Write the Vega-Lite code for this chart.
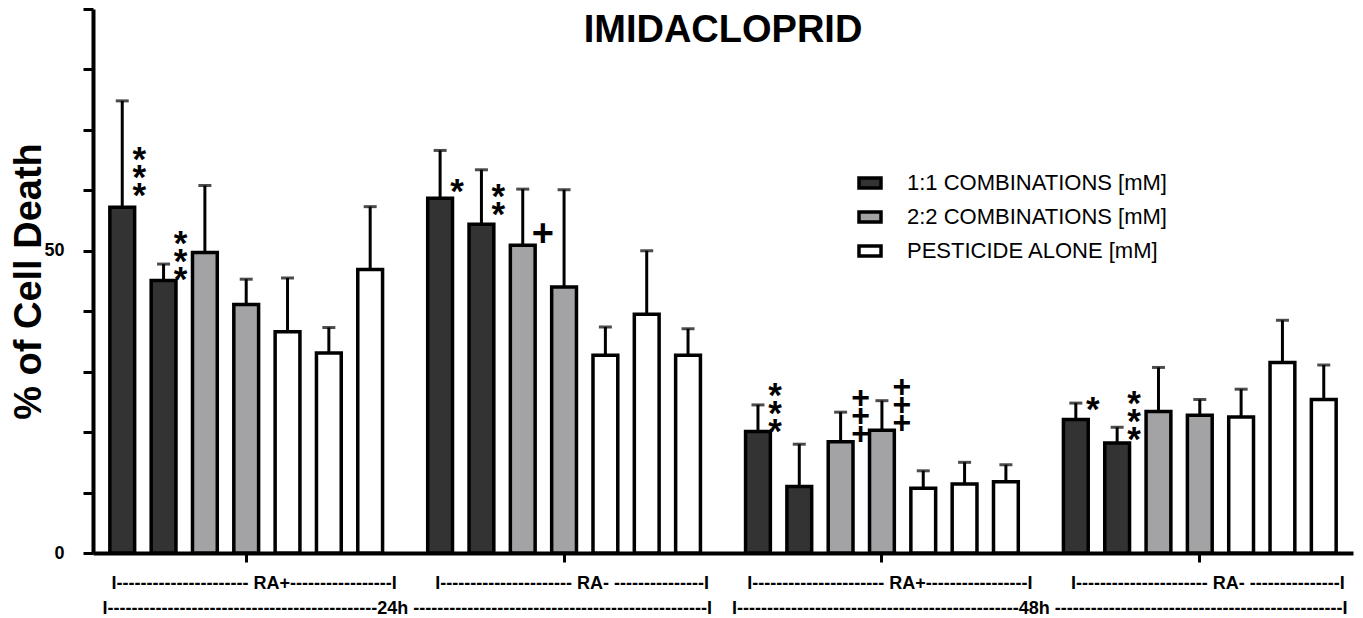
{
  "$schema": "https://vega.github.io/schema/vega-lite/v6.json",
  "width": 1260,
  "height": 544,
  "autosize": {"type": "none"},
  "padding": {"left": 93, "top": 9, "right": 10, "bottom": 65},
  "background": "white",
  "config": {
    "view": {"stroke": null},
    "font": "Liberation Sans"
  },
  "title": {
    "text": "IMIDACLOPRID",
    "font": "Liberation Sans",
    "fontSize": 38,
    "fontWeight": "bold",
    "color": "black",
    "anchor": "middle",
    "baseline": "alphabetic",
    "offset": -72
  },
  "datasets": {
    "bars": [
      {"group": "24h RA+", "bar": 1, "treatment": "1:1 COMBINATIONS [mM]", "value": 57.2, "upper": 74.8},
      {"group": "24h RA+", "bar": 2, "treatment": "1:1 COMBINATIONS [mM]", "value": 45.1, "upper": 47.8},
      {"group": "24h RA+", "bar": 3, "treatment": "2:2 COMBINATIONS [mM]", "value": 49.7, "upper": 60.8},
      {"group": "24h RA+", "bar": 4, "treatment": "2:2 COMBINATIONS [mM]", "value": 41.1, "upper": 45.3},
      {"group": "24h RA+", "bar": 5, "treatment": "PESTICIDE ALONE [mM]", "value": 36.6, "upper": 45.5},
      {"group": "24h RA+", "bar": 6, "treatment": "PESTICIDE ALONE [mM]", "value": 33.1, "upper": 37.3},
      {"group": "24h RA+", "bar": 7, "treatment": "PESTICIDE ALONE [mM]", "value": 46.9, "upper": 57.3},
      {"group": "24h RA-", "bar": 1, "treatment": "1:1 COMBINATIONS [mM]", "value": 58.7, "upper": 66.6},
      {"group": "24h RA-", "bar": 2, "treatment": "1:1 COMBINATIONS [mM]", "value": 54.4, "upper": 63.4},
      {"group": "24h RA-", "bar": 3, "treatment": "2:2 COMBINATIONS [mM]", "value": 50.9, "upper": 60.2},
      {"group": "24h RA-", "bar": 4, "treatment": "2:2 COMBINATIONS [mM]", "value": 44.0, "upper": 60.1},
      {"group": "24h RA-", "bar": 5, "treatment": "PESTICIDE ALONE [mM]", "value": 32.7, "upper": 37.4},
      {"group": "24h RA-", "bar": 6, "treatment": "PESTICIDE ALONE [mM]", "value": 39.5, "upper": 50.0},
      {"group": "24h RA-", "bar": 7, "treatment": "PESTICIDE ALONE [mM]", "value": 32.7, "upper": 37.1},
      {"group": "48h RA+", "bar": 1, "treatment": "1:1 COMBINATIONS [mM]", "value": 20.1, "upper": 24.5},
      {"group": "48h RA+", "bar": 2, "treatment": "1:1 COMBINATIONS [mM]", "value": 11.0, "upper": 18.0},
      {"group": "48h RA+", "bar": 3, "treatment": "2:2 COMBINATIONS [mM]", "value": 18.4, "upper": 23.3},
      {"group": "48h RA+", "bar": 4, "treatment": "2:2 COMBINATIONS [mM]", "value": 20.3, "upper": 25.2},
      {"group": "48h RA+", "bar": 5, "treatment": "PESTICIDE ALONE [mM]", "value": 10.7, "upper": 13.6},
      {"group": "48h RA+", "bar": 6, "treatment": "PESTICIDE ALONE [mM]", "value": 11.4, "upper": 15.0},
      {"group": "48h RA+", "bar": 7, "treatment": "PESTICIDE ALONE [mM]", "value": 11.8, "upper": 14.6},
      {"group": "48h RA-", "bar": 1, "treatment": "1:1 COMBINATIONS [mM]", "value": 22.1, "upper": 24.8},
      {"group": "48h RA-", "bar": 2, "treatment": "1:1 COMBINATIONS [mM]", "value": 18.2, "upper": 20.8},
      {"group": "48h RA-", "bar": 3, "treatment": "2:2 COMBINATIONS [mM]", "value": 23.4, "upper": 30.7},
      {"group": "48h RA-", "bar": 4, "treatment": "2:2 COMBINATIONS [mM]", "value": 22.8, "upper": 25.4},
      {"group": "48h RA-", "bar": 5, "treatment": "PESTICIDE ALONE [mM]", "value": 22.5, "upper": 27.1},
      {"group": "48h RA-", "bar": 6, "treatment": "PESTICIDE ALONE [mM]", "value": 31.5, "upper": 38.5},
      {"group": "48h RA-", "bar": 7, "treatment": "PESTICIDE ALONE [mM]", "value": 25.4, "upper": 31.1}
    ],
    "notes": [
      {"group": "24h RA+", "bar": 1, "label": "*\n*\n*", "y": 66.1},
      {"group": "24h RA+", "bar": 2, "label": "*\n*\n*", "y": 52.3},
      {"group": "24h RA-", "bar": 1, "label": "*", "y": 60.9},
      {"group": "24h RA-", "bar": 2, "label": "*\n*", "y": 60.1},
      {"group": "24h RA-", "bar": 3, "label": "+", "y": 53.0},
      {"group": "48h RA+", "bar": 1, "label": "*\n*\n*", "y": 27.2},
      {"group": "48h RA+", "bar": 3, "label": "+\n+\n+", "y": 26.1},
      {"group": "48h RA+", "bar": 4, "label": "+\n+\n+", "y": 28.0},
      {"group": "48h RA-", "bar": 1, "label": "*", "y": 24.8},
      {"group": "48h RA-", "bar": 2, "label": "*\n*\n*", "y": 25.8}
    ]
  },
  "encoding": {
    "x": {
      "field": "group",
      "type": "nominal",
      "sort": ["24h RA+", "24h RA-", "48h RA+", "48h RA-"],
      "scale": {"paddingInner": 0.09, "paddingOuter": 0.027},
      "axis": {
        "labelExpr": "indexof(datum.label, 'RA+') >= 0 ? 'I---------------------- RA+-----------------I' : 'I---------------------- RA- ---------------I'",
        "labelAngle": 0,
        "labelFont": "Liberation Sans",
        "labelFontWeight": "bold",
        "labelFontSize": 18,
        "labelColor": "black",
        "labelOffset": 8,
        "labelPadding": 12,
        "labelBaseline": "top",
        "labelLimit": 0,
        "tickSize": 9,
        "tickWidth": 3,
        "tickColor": "black",
        "domainColor": "black",
        "domainWidth": 4,
        "title": "I---------------------------------------------24h -------------------------------------------------I\u00a0\u00a0\u00a0\u00a0I-----------------------------------------------48h ------------------------------------------------I",
        "titleFont": "Liberation Sans",
        "titleFontWeight": "bold",
        "titleFontSize": 18,
        "titleColor": "black",
        "titleX": 631.5,
        "titleY": 46,
        "titleAlign": "center",
        "titleBaseline": "top",
        "titleLimit": 0
      }
    },
    "xOffset": {
      "field": "bar",
      "type": "ordinal",
      "scale": {"paddingInner": 0.4, "paddingOuter": 0.2}
    }
  },
  "layer": [
    {
      "data": {"name": "bars"},
      "mark": {"type": "rule", "color": "black", "strokeWidth": 3},
      "encoding": {
        "y": {
          "field": "value",
          "type": "quantitative",
          "scale": {"domain": [0, 90], "nice": false},
          "axis": {
            "values": [0, 5, 10, 15, 20, 25, 30, 35, 40, 45, 50, 55, 60, 65, 70, 75, 80, 85, 90],
            "labelExpr": "datum.value == 0 || datum.value == 50 ? datum.label : ''",
            "grid": false,
            "labelFont": "Liberation Sans",
            "labelFontWeight": "bold",
            "labelFontSize": 18,
            "labelColor": "black",
            "labelPadding": 19,
            "tickSize": 10,
            "tickWidth": 3,
            "tickColor": "black",
            "domainColor": "black",
            "domainWidth": 4,
            "title": "% of Cell Death",
            "titleFont": "Liberation Sans",
            "titleFontWeight": "bold",
            "titleFontSize": 38,
            "titleColor": "black",
            "titleAngle": -90,
            "titleX": -53,
            "titleY": 272,
            "titleAlign": "center",
            "titleBaseline": "alphabetic"
          }
        },
        "y2": {"field": "upper"}
      }
    },
    {
      "data": {"name": "bars"},
      "mark": {"type": "tick", "color": "black", "thickness": 3, "size": 13, "orient": "horizontal"},
      "encoding": {
        "y": {"field": "upper", "type": "quantitative"}
      }
    },
    {
      "data": {"name": "bars"},
      "mark": {"type": "bar", "stroke": "black", "strokeWidth": 3.5},
      "encoding": {
        "y": {"field": "value", "type": "quantitative"},
        "fill": {
          "field": "treatment",
          "type": "nominal",
          "scale": {
            "domain": ["1:1 COMBINATIONS [mM]", "2:2 COMBINATIONS [mM]", "PESTICIDE ALONE [mM]"],
            "range": ["#333333", "#a3a3a6", "#ffffff"]
          },
          "legend": {
            "title": null,
            "orient": "none",
            "legendX": 764,
            "legendY": 161,
            "symbolType": "M-1,-0.45H1V0.45H-1Z",
            "symbolSize": 484,
            "symbolStrokeColor": "black",
            "symbolStrokeWidth": 3.5,
            "symbolOpacity": 1,
            "labelFont": "Liberation Sans",
            "labelFontSize": 22,
            "labelColor": "black",
            "labelOffset": 24,
            "rowPadding": 9,
            "labelLimit": 400
          }
        }
      }
    },
    {
      "data": {"name": "notes"},
      "transform": [{"filter": "indexof(datum.label, '*') >= 0"}],
      "mark": {"type": "text", "font": "Liberation Sans", "fontWeight": "bold", "fontSize": 35, "lineBreak": "\n", "lineHeight": 18, "baseline": "middle", "align": "center", "dx": 17, "dy": 7, "color": "black"},
      "encoding": {
        "y": {"field": "y", "type": "quantitative"},
        "text": {"field": "label"}
      }
    },
    {
      "data": {"name": "notes"},
      "transform": [{"filter": "datum.label == '+\\n+\\n+'"}],
      "mark": {"type": "text", "font": "Liberation Sans", "fontWeight": "bold", "fontSize": 32, "lineBreak": "\n", "lineHeight": 18, "baseline": "middle", "align": "center", "dx": 20, "dy": 3, "color": "black"},
      "encoding": {
        "y": {"field": "y", "type": "quantitative"},
        "text": {"field": "label"}
      }
    },
    {
      "data": {"name": "notes"},
      "transform": [{"filter": "datum.label == '+'"}],
      "mark": {"type": "text", "font": "Liberation Sans", "fontWeight": "bold", "fontSize": 38, "baseline": "middle", "align": "center", "dx": 20, "dy": 2, "color": "black"},
      "encoding": {
        "y": {"field": "y", "type": "quantitative"},
        "text": {"field": "label"}
      }
    }
  ]
}
